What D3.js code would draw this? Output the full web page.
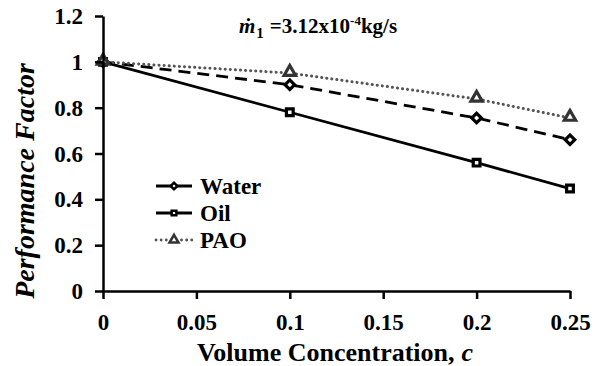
<!DOCTYPE html>
<html><head><meta charset="utf-8"><script src="https://cdn.jsdelivr.net/npm/d3@7"></script></head>
<body style="margin:0">
<svg width="595" height="366"></svg>
<script>
// chart data
const conc = [0, 0.1, 0.2, 0.25];
const water = [1, 0.9, 0.755, 0.66];
const oil = [1, 0.78, 0.56, 0.447];
const pao = [1, 0.951, 0.838, 0.755];
const xTicks = [0, 0.05, 0.1, 0.15, 0.2, 0.25];
const yTicks = [0, 0.2, 0.4, 0.6, 0.8, 1, 1.2];

const svg = d3.select("svg");

const x = d3.scaleLinear().domain([0, 0.25]).range([103, 570]);
const y = d3.scaleLinear().domain([0, 1.2]).range([291, 16]);

// series lines and markers
const series = [
  { name: "Water", values: water, dash: "12,7", color: "#000", symbol: d3.symbolSquare, rot: 45 },
  { name: "Oil", values: oil, dash: null, color: "#000", symbol: d3.symbolSquare, rot: 0 },
  { name: "PAO", values: pao, dash: "0.1,5", color: "#333", symbol: d3.symbolTriangle, rot: 0 }
];

const line = d3.line()
  .x((d, i) => x(conc[i]))
  .y((d) => y(d));

series.forEach(function (s) {
  const dotted = s.name === "PAO";
  svg.append("path")
    .attr("d", line(s.values))
    .attr("fill", "none")
    .attr("stroke", dotted ? "#555" : s.color)
    .attr("stroke-width", dotted ? 3 : 2.8)
    .attr("stroke-dasharray", s.dash)
    .attr("stroke-linecap", dotted ? "round" : "butt");

  svg.selectAll(null)
    .data(s.values)
    .enter()
    .append("path")
    .attr("d", d3.symbol().type(s.symbol).size(dotted ? 55 : 45))
    .attr("transform", (d, i) => "translate(" + x(conc[i]) + "," + (y(d) + (dotted ? -1 : 0)) + ") rotate(" + s.rot + ")")
    .attr("fill", "#fff")
    .attr("stroke", s.color)
    .attr("stroke-width", 3.2);
});

// axes
const xAxis = svg.append("g")
  .attr("transform", "translate(0,291)")
  .call(d3.axisBottom(x).tickValues(xTicks).tickFormat(d3.format("")).tickSize(8).tickSizeOuter(0));
const yAxis = svg.append("g")
  .attr("transform", "translate(103,0)")
  .call(d3.axisLeft(y).tickValues(yTicks).tickFormat(d3.format("")).tickSize(8).tickSizeOuter(0));

[xAxis, yAxis].forEach(function (g) {
  g.select(".domain").attr("stroke", "#000").attr("stroke-width", 2.5);
  g.selectAll(".tick line").attr("stroke", "#000").attr("stroke-width", 2.5);
  g.selectAll(".tick text")
    .style("font-family", "'Liberation Serif'")
    .style("font-weight", "bold")
    .style("font-size", "23px");
});
xAxis.selectAll(".tick text").attr("y", 39).attr("dy", null);
yAxis.selectAll(".tick text").attr("x", -20).attr("dy", "0.33em");

// legend
series.forEach(function (s, i) {
  const ly = 186 + i * 27;
  const dotted = s.name === "PAO";
  svg.append("line")
    .attr("x1", 156).attr("x2", 192)
    .attr("y1", ly).attr("y2", ly)
    .attr("stroke", dotted ? "#555" : s.color)
    .attr("stroke-width", 2.8)
    .attr("stroke-dasharray", dotted ? "0.1,5" : null)
    .attr("stroke-linecap", dotted ? "round" : "butt");
  svg.append("path")
    .attr("d", d3.symbol().type(s.symbol).size(dotted ? 35 : 22))
    .attr("transform", "translate(174," + ly + ") rotate(" + s.rot + ")")
    .attr("fill", "#fff")
    .attr("stroke", s.color)
    .attr("stroke-width", 2.5);
  svg.append("text")
    .attr("x", 200).attr("y", ly)
    .attr("dy", "0.33em")
    .style("font-family", "'Liberation Serif'")
    .style("font-weight", "bold")
    .style("font-size", "23px")
    .text(s.name);
});

// annotation, built from separate pieces placed one after another
const pieces = [
  { t: "ṁ", size: 21, dy: 0, italic: true, after: 1 },
  { t: "1", size: 15, dy: 5, after: 6 },
  { t: "=3.12x10", size: 21, dy: 0, after: 0 },
  { t: "-4", size: 13, dy: -8, after: 0 },
  { t: "kg/s", size: 21, dy: 0, after: 0 }
];
let px = 239;
pieces.forEach(function (p) {
  const t = svg.append("text")
    .attr("x", px).attr("y", 33 + p.dy)
    .style("font-family", "'Liberation Serif'")
    .style("font-weight", "bold")
    .style("font-size", p.size + "px")
    .style("font-style", p.italic ? "italic" : "normal")
    .text(p.t);
  px += t.node().getComputedTextLength() + p.after;
});

// x title with italic c
const xt1 = svg.append("text")
  .attr("y", 361)
  .style("font-family", "'Liberation Serif'")
  .style("font-weight", "bold")
  .style("font-size", "26px")
  .text("Volume Concentration,");
const xt2 = svg.append("text")
  .attr("y", 361)
  .style("font-family", "'Liberation Serif'")
  .style("font-weight", "bold")
  .style("font-size", "26px")
  .style("font-style", "italic")
  .text("c");
const w1 = xt1.node().getComputedTextLength();
const w2 = xt2.node().getComputedTextLength();
const gap = 7;
const x0 = 335 - (w1 + gap + w2) / 2;
xt1.attr("x", x0);
xt2.attr("x", x0 + w1 + gap);

// y title
svg.append("text")
  .attr("transform", "translate(34,181) rotate(-90)")
  .attr("text-anchor", "middle")
  .style("font-family", "'Liberation Serif'")
  .style("font-weight", "bold")
  .style("font-size", "28px")
  .style("font-style", "italic")
  .text("Performance Factor");
</script></body></html>
